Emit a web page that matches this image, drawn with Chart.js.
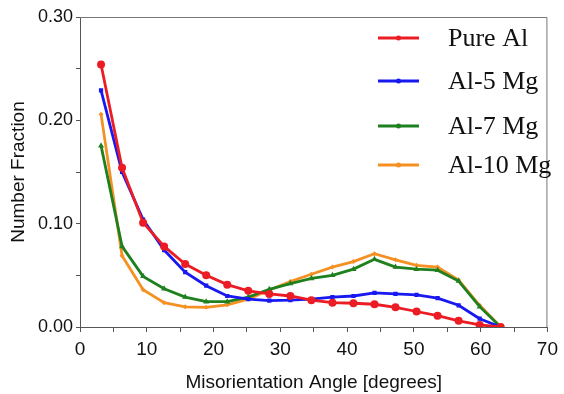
<!DOCTYPE html>
<html><head><meta charset="utf-8">
<script src="https://cdn.jsdelivr.net/npm/chart.js@4/dist/chart.umd.min.js"></script>
<style>html,body{margin:0;padding:0;background:#fff}#wrap{width:564px;height:394px}</style>
</head><body><div id="wrap"><canvas id="c" width="564" height="394"></canvas></div>
<script>
const angles = [3.15, 6.3, 9.45, 12.6, 15.75, 18.9, 22.05, 25.2, 28.35, 31.5, 34.65, 37.8, 40.95, 44.1, 47.25, 50.4, 53.55, 56.7, 59.85, 63.0];
const seriesNames = ["Pure Al", "Al-5 Mg", "Al-7 Mg", "Al-10 Mg"];
const pureAl = [0.254, 0.154, 0.101, 0.078, 0.061, 0.050, 0.041, 0.035, 0.032, 0.030, 0.026, 0.0235, 0.023, 0.022, 0.019, 0.015, 0.011, 0.006, 0.002, 0.0];
const al5Mg = [0.229, 0.150, 0.104, 0.0745, 0.053, 0.040, 0.030, 0.027, 0.0255, 0.026, 0.027, 0.029, 0.030, 0.033, 0.032, 0.031, 0.028, 0.021, 0.008, 0.0];
const al7Mg = [0.1755, 0.078, 0.049, 0.037, 0.029, 0.0245, 0.0245, 0.029, 0.0365, 0.042, 0.047, 0.050, 0.056, 0.0655, 0.058, 0.056, 0.055, 0.0445, 0.0197, 0.0];
const al10Mg = [0.206, 0.069, 0.036, 0.0235, 0.0195, 0.019, 0.0215, 0.027, 0.0358, 0.044, 0.051, 0.058, 0.0633, 0.071, 0.065, 0.0597, 0.058, 0.0455, 0.021, 0.0];
const xTickLabels = ["0", "10", "20", "30", "40", "50", "60", "70"];
const yTickLabels = ["0.00", "0.10", "0.20", "0.30"];

const colors = ["rgb(236,28,36)", "rgb(24,24,240)", "rgb(30,128,30)", "rgb(245,145,35)"];
const markers = ["circle", "rect", "triangle", "rectRot"];
const radii = [4, 3, 3.5, 2.5];
const values = [pureAl, al5Mg, al7Mg, al10Mg];

const datasets = values.map((v, k) => ({
  label: seriesNames[k],
  data: v.map((y, i) => ({x: angles[i], y: y})),
  borderColor: colors[k],
  backgroundColor: colors[k],
  borderWidth: 2.8,
  pointStyle: markers[k],
  pointRadius: radii[k],
  pointBorderWidth: 0,
  tension: 0
}));

const boxAndLegend = {
  id: 'boxAndLegend',
  afterDraw(chart) {
    const ctx = chart.ctx, a = chart.chartArea;
    ctx.save();
    ctx.strokeStyle = '#777';
    ctx.lineWidth = 1;
    ctx.beginPath();
    ctx.moveTo(a.left, a.top + 0.5);
    ctx.lineTo(a.right - 0.5, a.top + 0.5);
    ctx.lineTo(a.right - 0.5, a.bottom);
    ctx.stroke();
    const rows = [38, 81, 126, 165];
    ctx.font = '26px "Liberation Serif", "Times New Roman", serif';
    ctx.textBaseline = 'middle';
    ctx.textAlign = 'left';
    chart.data.datasets.forEach((d, k) => {
      const y = rows[k];
      ctx.strokeStyle = d.borderColor;
      ctx.lineWidth = 3;
      ctx.beginPath(); ctx.moveTo(378, y); ctx.lineTo(419, y); ctx.stroke();
      ctx.fillStyle = d.borderColor;
      ctx.beginPath(); ctx.arc(398.5, y, 2.5, 0, Math.PI * 2); ctx.fill();
      ctx.fillStyle = '#111';
      ctx.fillText(d.label, 448, y + 1);
    });
    ctx.restore();
  }
};

new Chart(document.getElementById('c'), {
  type: 'line',
  data: { datasets },
  plugins: [boxAndLegend],
  options: {
    responsive: false,
    animation: false,
    layout: { padding: { top: 17, right: 8, left: 0, bottom: 0 } },
    plugins: { legend: { display: false }, tooltip: { enabled: false } },
    scales: {
      x: {
        type: 'linear', min: 0, max: 70,
        afterFit(s) { s.height = 67; },
        border: { display: true, color: '#555', width: 1 },
        grid: { drawOnChartArea: false, drawTicks: true, tickLength: 5, color: '#555' },
        ticks: {
          stepSize: 5, maxRotation: 0, autoSkip: false, padding: 6, color: '#111',
          font: { family: '"Liberation Sans", Arial, sans-serif', size: 19 },
          callback: (v) => (v % 10 === 0 ? xTickLabels[v / 10] : '')
        },
        title: { display: true, text: 'Misorientation Angle [degrees]', color: '#111',
          font: { family: '"Liberation Sans", Arial, sans-serif', size: 19 }, padding: { top: 6, bottom: 0 } }
      },
      y: {
        min: 0, max: 0.30,
        afterFit(s) { s.width = 80; },
        border: { display: true, color: '#555', width: 1 },
        grid: { drawOnChartArea: false, drawTicks: true, tickLength: 4, color: '#555' },
        ticks: {
          stepSize: 0.05, autoSkip: false, padding: 3, color: '#111',
          font: { family: '"Liberation Sans", Arial, sans-serif', size: 18 },
          callback: (v) => { const r = Math.round(v * 100); return r % 10 === 0 ? yTickLabels[r / 10] : ''; }
        },
        title: { display: true, text: 'Number Fraction', color: '#111',
          font: { family: '"Liberation Sans", Arial, sans-serif', size: 19 }, padding: { top: 7, bottom: 4 } }
      }
    }
  }
});
</script></body></html>
